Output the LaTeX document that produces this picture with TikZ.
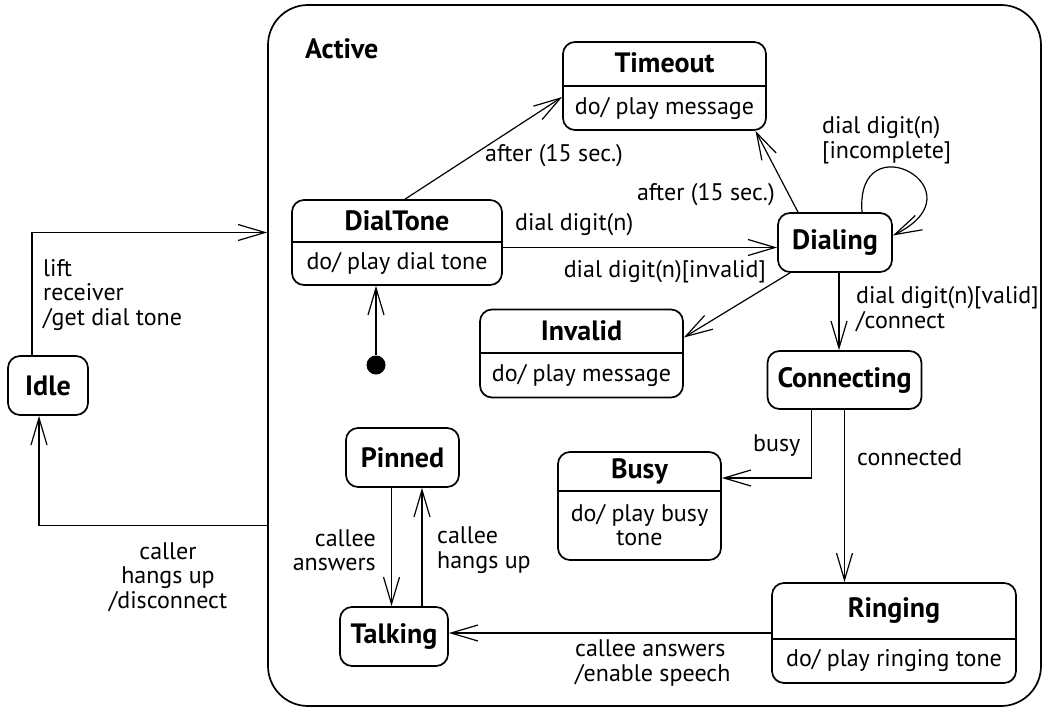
\documentclass[tikz,border=0pt]{standalone}
\usepackage{fontspec}
\setmainfont{PT Sans}
\usetikzlibrary{arrows.meta,positioning,calc}

\tikzset{
  state/.style={draw, line width=1.7pt, rounded corners=12pt, inner sep=0pt},
  title/.style={font=\fontsize{28}{30}\selectfont\bfseries, inner sep=0pt},
  body/.style={font=\fontsize{24}{24.5}\selectfont, inner sep=0pt, align=center},
  lbl/.style={font=\fontsize{24}{24.5}\selectfont, inner sep=0pt},
  tr/.style={line width=1.2pt, -{Straight Barb[length=27pt,width=16pt,line width=1.2pt]}},
  divider/.style={line width=1.7pt},
}

\begin{document}
\begin{tikzpicture}[x=1pt, y=-1pt]
  \useasboundingbox (0,0) rectangle (1043,709);
  % composite state
  \node[draw, line width=1.7pt, rounded corners=40pt, minimum width=773pt, minimum height=701pt] (active) at (654.5,355.5) {};
  \node[title, anchor=west] (activeName) at (305,49) {Active};
  % states with an activity
  \node[state, minimum width=203pt, minimum height=88pt] (timeout) at (664.5,86) {};
  \draw[divider] (timeout.west |- 0,86) -- (timeout.east |- 0,86);
  \node[title] (timeoutName) at (664.5,63) {Timeout};
  \node[body] (timeoutDo) at (664.5,108) {do/ play message};

  \node[state, minimum width=210pt, minimum height=85pt] (dialtone) at (397,242.5) {};
  \draw[divider] (dialtone.west |- 0,242) -- (dialtone.east |- 0,242);
  \node[title] (dialtoneName) at (397,221) {DialTone};
  \node[body] (dialtoneDo) at (397,263) {do/ play dial tone};

  \node[state, minimum width=203pt, minimum height=88pt] (invalid) at (581.5,353.5) {};
  \draw[divider] (invalid.west |- 0,353) -- (invalid.east |- 0,353);
  \node[title] (invalidName) at (581.5,331) {Invalid};
  \node[body] (invalidDo) at (581.5,375) {do/ play message};

  \node[state, minimum width=163pt, minimum height=108pt] (busy) at (639.5,506) {};
  \draw[divider] (busy.west |- 0,491) -- (busy.east |- 0,491);
  \node[title] (busyName) at (639.5,471) {Busy};
  \node[body] (busyDo) at (639.5,525) {do/ play busy\\tone};

  \node[state, minimum width=244pt, minimum height=100pt] (ringing) at (894,633) {};
  \draw[divider] (ringing.west |- 0,639) -- (ringing.east |- 0,639);
  \node[title] (ringingName) at (894,611) {Ringing};
  \node[body] (ringingDo) at (894,660) {do/ play ringing tone};
  % simple states
  \node[state, title, minimum width=114pt, minimum height=59pt] (dialing) at (835,242.5) {Dialing};
  \node[state, title, minimum width=154pt, minimum height=58pt] (connecting) at (844.5,380) {Connecting};
  \node[state, title, minimum width=113pt, minimum height=59pt] (pinned) at (402.5,457.5) {Pinned};
  \node[state, title, minimum width=108pt, minimum height=59pt] (talking) at (394,636.5) {Talking};
  \node[state, title, minimum width=80pt, minimum height=59pt] (idle) at (48,385.5) {Idle};
  \node[circle, fill, inner sep=0pt, minimum size=19pt] (init) at (376,365) {};
  % transitions
  \draw[tr] ([xshift=-16]idle.north) |- ([yshift=123]active.west);
  \draw[tr] ([yshift=-170]active.west) -| ([xshift=-9]idle.south);
  \draw[tr] (init) -- (init |- dialtone.south);
  \draw[tr] ([xshift=8]dialtone.north) -- ([yshift=-11]timeout.west);
  \draw[tr] ([xshift=-37]dialing.north) -- ([xshift=91]timeout.south);
  \draw[tr] ([yshift=-5]dialtone.east) -- ([yshift=-5]dialing.west);
  \draw[tr] ([xshift=-45]dialing.south) -- ([yshift=16]invalid.east);
  \draw[tr] ([xshift=27]dialing.north) .. controls (855,120) and (985,190) .. ([yshift=7]dialing.east);
  \draw[tr] ([xshift=4]dialing.south) -- ([xshift=4]dialing.south |- connecting.north);
  \draw[tr] ([xshift=-33]connecting.south) |- ([yshift=28]busy.east);
  \draw[tr] (connecting.south) -- (connecting.south |- ringing.north);
  \draw[tr] (ringing.west) -- (ringing.west -| talking.east);
  \draw[tr] ([xshift=-11]pinned.south) -- ([xshift=-11]pinned.south |- talking.north);
  \draw[tr] ([xshift=28]talking.north) -- ([xshift=28]talking.north |- pinned.south);
  % transition labels
  \node[lbl, align=left, anchor=west] (liftLbl) at (43,295) {lift\\receiver\\/get dial tone};
  \node[lbl, align=center] (callerLbl) at (168,577) {caller\\hangs up\\/disconnect};
  \node[lbl] (timeout1Lbl) at (554,156) {after (15 sec.)};
  \node[lbl, anchor=east] (timeout2Lbl) at (775,195) {after (15 sec.)};
  \node[lbl, anchor=west] (digitLbl) at (515,225) {dial digit(n)};
  \node[lbl, anchor=east] (invalidLbl) at (766,272) {dial digit(n)[invalid]};
  \node[lbl, align=left, anchor=west] (incompleteLbl) at (822,140) {dial digit(n)\\{}[incomplete]};
  \node[lbl, align=left, anchor=west] (validLbl) at (856,309) {dial digit(n)[valid]\\/connect};
  \node[lbl, anchor=west] (busyLbl) at (753,446) {busy};
  \node[lbl, anchor=west] (connectedLbl) at (857,457) {connected};
  \node[lbl, align=left, anchor=west] (speechLbl) at (575,663) {callee answers\\/enable speech};
  \node[lbl, align=right, anchor=east] (answersLbl) at (376,550) {callee\\answers};
  \node[lbl, align=left, anchor=west] (hangsLbl) at (437,550) {callee\\hangs up};
\end{tikzpicture}
\end{document}
